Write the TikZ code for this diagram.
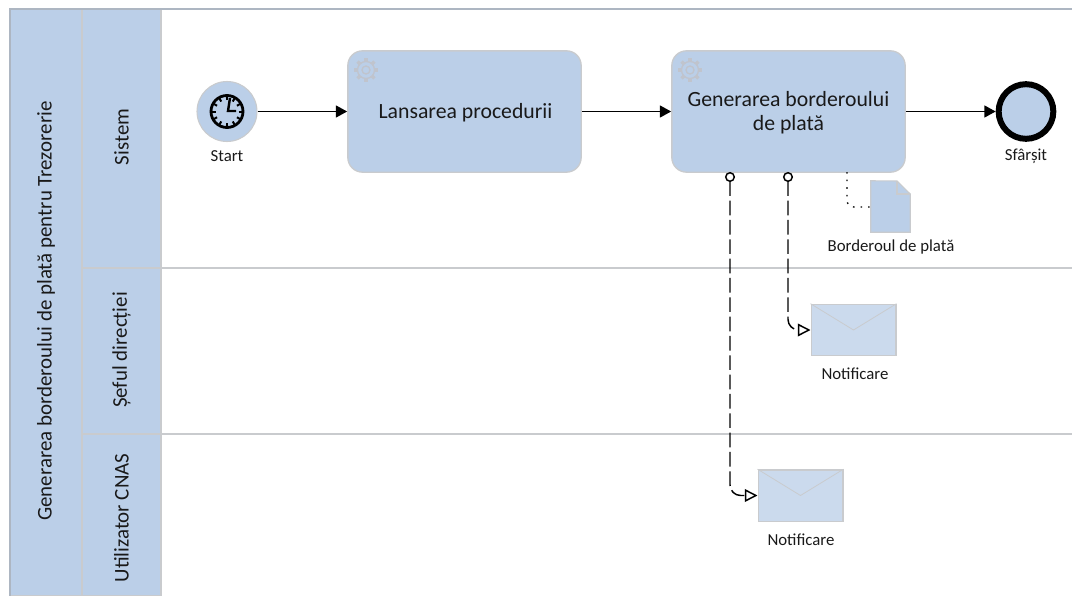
\documentclass[tikz,border=0pt]{standalone}
\usepackage{fontspec}
\setmainfont{Carlito}
\usetikzlibrary{arrows.meta}
\definecolor{bpmnblue}{HTML}{BBCFE8}
\definecolor{mailblue}{HTML}{CBDAED}
\definecolor{edgegray}{HTML}{C9CBCE}
\definecolor{topgray}{HTML}{ADB6C2}
\definecolor{geargray}{HTML}{C0C4CD}
\tikzset{
  headbox/.style={draw=edgegray, fill=bpmnblue, line width=1pt, inner sep=0pt},
  headtext/.style={font=\fontsize{15.7}{18}\selectfont, inner sep=0pt, text=black!90, rotate=90},
  taskbox/.style={draw=edgegray, fill=bpmnblue, line width=1pt, rounded corners=11pt, minimum width=175pt, minimum height=91pt, align=center, font=\fontsize{16.3}{18}\selectfont, inner sep=0pt, text=black!90},
  mailbox/.style={draw=edgegray, fill=mailblue, line width=1pt, minimum width=63.5pt, minimum height=38.5pt, inner sep=0pt},
  caption/.style={font=\fontsize{12.6}{14}\selectfont, inner sep=0pt, text=black!90},
  seqflow/.style={-{Triangle[length=8.5pt,width=9pt]}, line width=1.2pt},
  msgflow/.style={{Circle[open,fill=white,length=7.5pt,width=7.5pt]}-{Triangle[open,fill=white,length=9.5pt,width=9.5pt]}, line width=1.1pt, dash pattern=on 11pt off 3.5pt, rounded corners=8pt},
  gear/.pic={
    \foreach \a in {0,45,...,315}
      \draw[geargray, line width=2.4pt] (\a:8.5) -- (\a:12);
    \draw[geargray, line width=1pt] (0,0) circle (8.5);
    \draw[geargray, line width=1pt] (0,0) circle (4);
  }
}
\begin{document}
\begin{tikzpicture}[x=0.75pt, y=-0.75pt]
\useasboundingbox (0,0) rectangle (1072,596);

% lanes
\draw[edgegray, line width=1.5pt] (161,268) -- (1072,268);
\draw[edgegray, line width=.8pt] (161,434) -- (1072,434);

\node[headbox, minimum width=54pt, minimum height=440.25pt] (pool) at (46,302.5) {};
\node[headbox, minimum width=59.25pt, minimum height=194.25pt] (lanesys) at (121.5,138.5) {};
\node[headbox, minimum width=59.25pt, minimum height=124.5pt] (lanesef) at (121.5,351) {};
\node[headbox, minimum width=59.25pt, minimum height=121.5pt] (laneuser) at (121.5,515) {};
\draw[topgray, line width=1pt] (10,596) -- (10,9) -- (1072,9);
\node[headtext] (pooltext) at (46,311) {Generarea borderoului de plată pentru Trezorerie};
\node[headtext] (systext) at (121.5,137) {Sistem};
\node[headtext] (seftext) at (121.5,350) {Șeful direcției};
\node[headtext] (usertext) at (121.5,518) {Utilizator CNAS};

% events
\node[circle, fill=bpmnblue, draw=edgegray, line width=.8pt, minimum size=45pt, inner sep=0pt] (start) at (227,111.5) {};
\draw[line width=2.1pt] (start.center) circle (16);
\foreach \a in {0,30,...,330}
  \draw[line width=1.5pt] (start.center) ++(\a:11.5) -- ++(\a:5);
\draw[line width=1.8pt] (230,98) -- (228,111) -- (236,111);
\node[caption] (starttext) at (227,156) {Start};

\node[circle, fill=bpmnblue, draw=black, line width=4.5pt, minimum size=41pt, inner sep=0pt] (end) at (1026,111.5) {};
\node[caption] (endtext) at (1026,156) {Sfârșit};

% tasks
\node[taskbox] (proc) at (464.5,111.5) {};
\node[taskbox] (bord) at (788.5,111.5) {};
\node[taskbox, draw=none, fill=none] (proctext) at (465.5,113) {Lansarea procedurii};
\node[taskbox, draw=none, fill=none] (bordtext) at (788.5,113) {Generarea borderoului\\de plată};
\pic at (366,70) {gear};
\pic at (690,70) {gear};

% document
\node[inner sep=0pt, minimum width=29.25pt, minimum height=38.25pt] (doc) at (890.5,206.5) {};
\filldraw[fill=bpmnblue, draw=edgegray, line width=.8pt] (doc.south west) -- (doc.north west) -- (897,181) -- (doc.east |- 0,194) -- (doc.south east) -- cycle;
\draw[edgegray, line width=.8pt] (897,181) -- (897,194) -- (doc.east |- 0,194);
\node[caption] (doctext) at (891,247) {Borderoul de plată};

% messages
\node[mailbox] (maila) at (853.5,330) {};
\node[mailbox] (mailb) at (800.5,495.5) {};
\foreach \m in {maila,mailb}
  \draw[edgegray, line width=.6pt] (\m.north west) -- (\m.center) -- (\m.north east);
\node[caption] (mailatext) at (855,374) {Notificare};
\node[caption] (mailbtext) at (801,540) {Notificare};

% flows
\coordinate (flowa) at (788,172);
\coordinate (flowb) at (730,172);
\coordinate (assoc) at (847,172);
\draw[seqflow] (start) -- (proc);
\draw[seqflow] (proc) -- (bord);
\draw[seqflow] (bord) -- (end);
\draw[msgflow] (flowa) |- (maila.west);
\draw[msgflow] (flowb) |- (mailb.west);
\draw[line width=1pt, dash pattern=on 1.2pt off 4.5pt, rounded corners=5pt] (assoc) |- (doc.west |- 0,207);
\end{tikzpicture}
\end{document}
